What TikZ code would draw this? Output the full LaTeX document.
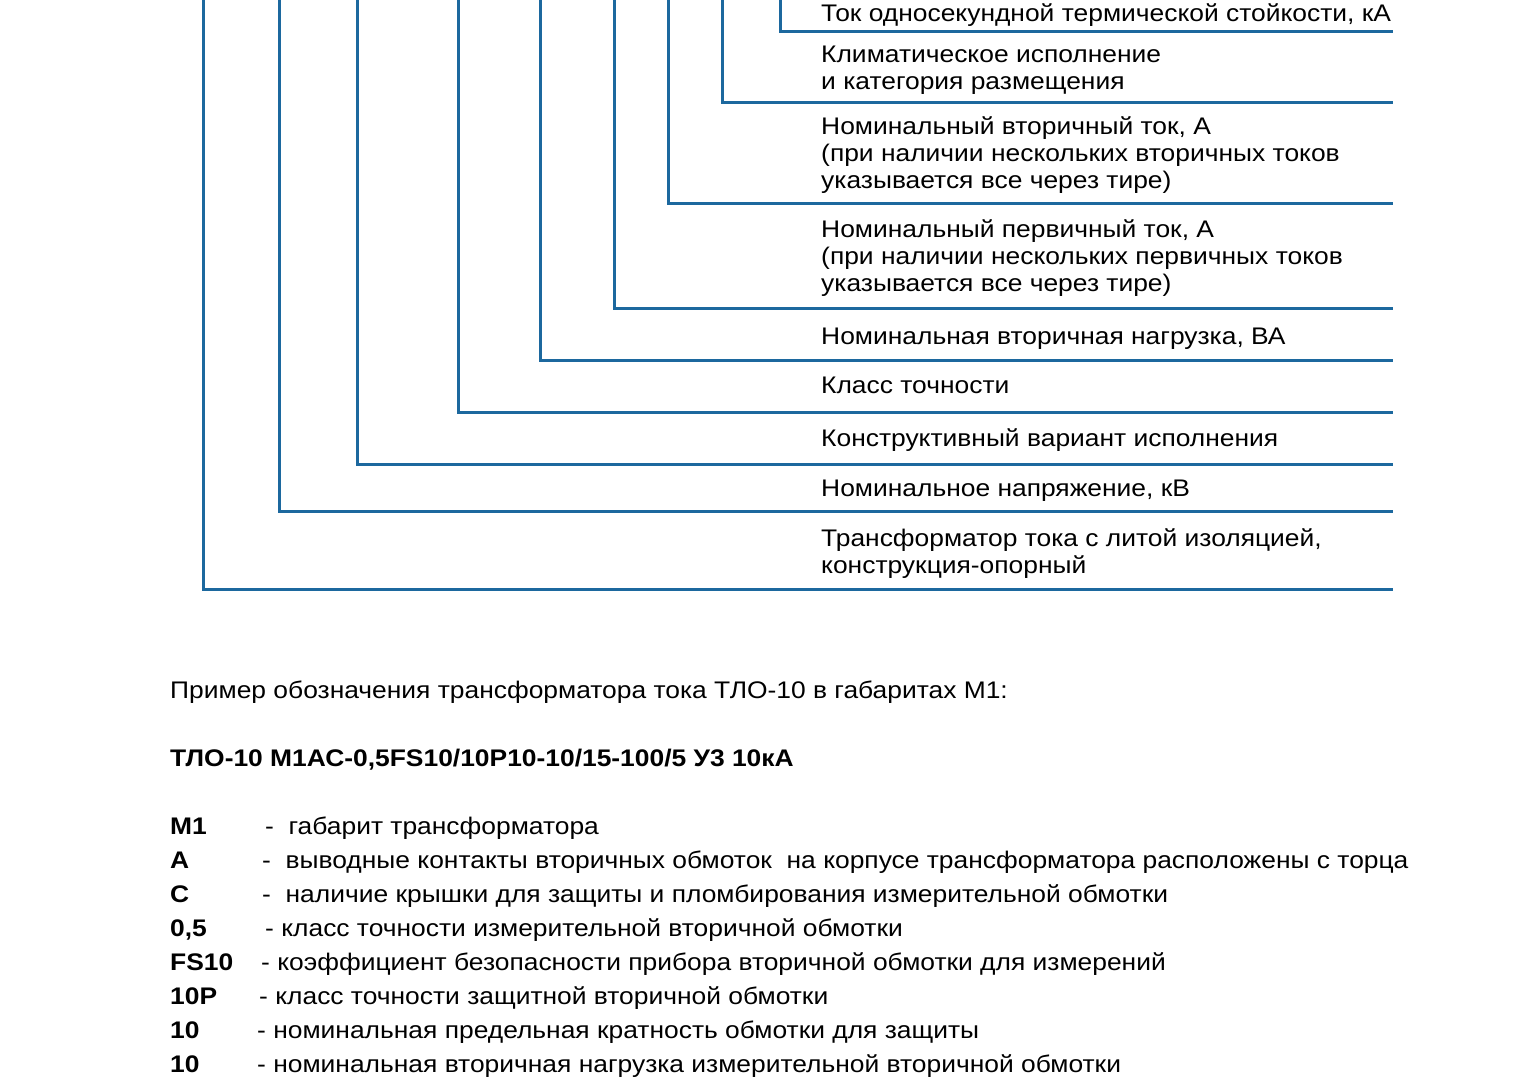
\documentclass[tikz,border=0pt]{standalone}
\usepackage{fontspec}
\setmainfont{Liberation Sans}[FakeStretch=1.1]
\definecolor{lineblue}{RGB}{28,104,158}
\begin{document}
\begin{tikzpicture}[x=1pt,y=-1pt,
  bracket/.style={draw=lineblue, line width=3pt, line join=miter},
  lbl/.style={anchor=base west, inner sep=0pt, font=\fontsize{24}{27}\selectfont, align=left},
  txt/.style={anchor=base west, inner sep=0pt, font=\fontsize{24}{27}\selectfont},
  code/.style={anchor=base west, inner sep=0pt, font=\fontsize{24}{27}\selectfont\bfseries}]
\useasboundingbox (0,0) rectangle (1526,1080);
% line tops and right ends
\foreach \n/\x/\y in {a/203/589, b/279/511, c/357/464, d/458/412, e/540/360, f/614/308, g/668/203, h/722/102, i/780/31}{
  \coordinate (top\n) at (\x,-5);
  \coordinate (end\n) at (1393,\y);
  \draw[bracket] (top\n) |- (end\n);
}
% labels (multi-line nodes: base = baseline of the last line)
\node[lbl] (l1) at (821,21) {Ток односекундной термической стойкости, кА};
\node[lbl] (l2) at (821,89) {Климатическое исполнение\\и категория размещения};
\node[lbl] (l3) at (821,188) {Номинальный вторичный ток, А\\(при наличии нескольких вторичных токов\\указывается все через тире)};
\node[lbl] (l4) at (821,291) {Номинальный первичный ток, А\\(при наличии нескольких первичных токов\\указывается все через тире)};
\node[lbl] (l5) at (821,344) {Номинальная вторичная нагрузка, ВА};
\node[lbl] (l6) at (821,393) {Класс точности};
\node[lbl] (l7) at (821,446) {Конструктивный вариант исполнения};
\node[lbl] (l8) at (821,496) {Номинальное напряжение, кВ};
\node[lbl] (l9) at (821,573) {Трансформатор тока с литой изоляцией,\\конструкция-опорный};
% example
\node[txt] (ex) at (170,698) {Пример обозначения трансформатора тока ТЛО-10 в габаритах М1:};
\node[code] (full) at (170,766) {ТЛО-10 М1АС-0,5FS10/10Р10-10/15-100/5 У3 10кА};
\node[code] (k1) at (170,834) {М1};
\node[txt]  (d1) at (265,834) {-\ \ габарит трансформатора};
\node[code] (k2) at (170,868) {А};
\node[txt]  (d2) at (262,868) {-\ \ выводные контакты вторичных обмоток\ \ на корпусе трансформатора расположены с торца};
\node[code] (k3) at (170,902) {С};
\node[txt]  (d3) at (262,902) {-\ \ наличие крышки для защиты и пломбирования измерительной обмотки};
\node[code] (k4) at (170,936) {0,5};
\node[txt]  (d4) at (265,936) {- класс точности измерительной вторичной обмотки};
\node[code] (k5) at (170,970) {FS10};
\node[txt]  (d5) at (261,970) {- коэффициент безопасности прибора вторичной обмотки для измерений};
\node[code] (k6) at (170,1004) {10Р};
\node[txt]  (d6) at (259,1004) {- класс точности защитной вторичной обмотки};
\node[code] (k7) at (170,1038) {10};
\node[txt]  (d7) at (257,1038) {- номинальная предельная кратность обмотки для защиты};
\node[code] (k8) at (170,1072) {10};
\node[txt]  (d8) at (257,1072) {- номинальная вторичная нагрузка измерительной вторичной обмотки};
\end{tikzpicture}
\end{document}
